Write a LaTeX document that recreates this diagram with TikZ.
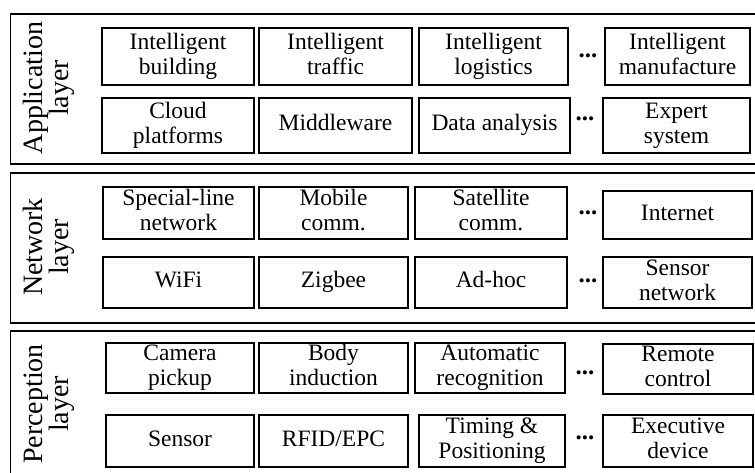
\documentclass[tikz,border=0pt]{standalone}
\usepackage{fontspec}
\setmainfont{Liberation Serif}
\newcommand\lnA[1]{\strut#1}
\begin{document}
\begin{tikzpicture}[x=1pt,y=-1pt,
  layerbox/.style={draw, line width=1.5pt, anchor=north west, minimum width=751, minimum height=150, inner sep=0pt},
  layerlabel/.style={rotate=90, align=center, inner sep=0pt, font=\fontsize{28}{26}\selectfont},
  cell/.style={draw, line width=1.2pt, align=center, inner sep=0pt, font=\fontsize{23.5}{25}\selectfont},
  dots/.style={anchor=base, inner sep=0pt, font=\fontsize{25}{25}\selectfont\bfseries}]
\useasboundingbox (0,0) rectangle (755,472);
\clip (0,0) rectangle (755,472);
% layers
\node[layerbox] (app) at (9.5,13) {};
\node[layerbox] (net) at (9.5,172) {};
\node[layerbox] (per) at (9.5,330) {};
\node[layerlabel] (appl) at (49,88) {Application\\layer};
\node[layerlabel] (netl) at (49,247) {Network\\layer};
\node[layerlabel] (perl) at (49,404) {Perception\\layer};
% application layer
\node[cell, minimum width=152, minimum height=57] (a11) at (178,56.5) {\lnA{Intelligent}\\\lnA{building}};
\node[cell, minimum width=153, minimum height=57] (a12) at (335.5,56.5) {\lnA{Intelligent}\\\lnA{traffic}};
\node[cell, minimum width=149, minimum height=57] (a13) at (493.5,56.5) {\lnA{Intelligent}\\\lnA{logistics}};
\node[cell, minimum width=145, minimum height=57] (a14) at (677.5,56.5) {\lnA{Intelligent}\\\lnA{manufacture}};
\node[cell, minimum width=152, minimum height=55] (a21) at (178,125.5) {\lnA{Cloud}\\\lnA{platforms}};
\node[cell, minimum width=153, minimum height=55] (a22) at (335.5,125.5) {\lnA{Middleware}};
\node[cell, minimum width=151, minimum height=55] (a23) at (494.5,125.5) {\lnA{Data analysis}};
\node[cell, minimum width=147, minimum height=55] (a24) at (676.5,125.5) {\lnA{Expert}\\\lnA{system}};
\node[dots] (ad1) at (588,57) {...};
\node[dots] (ad2) at (585,120) {...};
% network layer
\node[cell, minimum width=151, minimum height=52] (n11) at (178.5,213) {\lnA{Special-line}\\\lnA{network}};
\node[cell, minimum width=149, minimum height=52] (n12) at (333.5,213) {\lnA{Mobile}\\\lnA{comm.}};
\node[cell, minimum width=152, minimum height=52] (n13) at (491,213) {\lnA{Satellite}\\\lnA{comm.}};
\node[cell, minimum width=149, minimum height=48] (n14) at (677.5,215) {\lnA{Internet}};
\node[cell, minimum width=151, minimum height=51] (n21) at (178.5,282.5) {\lnA{WiFi}};
\node[cell, minimum width=149, minimum height=51] (n22) at (333.5,282.5) {\lnA{Zigbee}};
\node[cell, minimum width=152, minimum height=51] (n23) at (491,282.5) {\lnA{Ad-hoc}};
\node[cell, minimum width=149, minimum height=51] (n24) at (677.5,282.5) {\lnA{Sensor}\\\lnA{network}};
\node[dots] (nd1) at (588,214) {...};
\node[dots] (nd2) at (588,282) {...};
% perception layer
\node[cell, minimum width=148, minimum height=50] (p11) at (180,368) {\lnA{Camera}\\\lnA{pickup}};
\node[cell, minimum width=149, minimum height=50] (p12) at (333.5,368) {\lnA{Body}\\\lnA{induction}};
\node[cell, minimum width=150, minimum height=50] (p13) at (490,368) {\lnA{Automatic}\\\lnA{recognition}};
\node[cell, minimum width=150, minimum height=50] (p14) at (678,369) {\lnA{Remote}\\\lnA{control}};
\node[cell, minimum width=148, minimum height=52] (p21) at (180,441) {\lnA{Sensor}};
\node[cell, minimum width=149, minimum height=52] (p22) at (333.5,441) {\lnA{RFID/EPC}};
\node[cell, minimum width=146, minimum height=52] (p23) at (492,441) {\lnA{Timing \&}\\\lnA{Positioning}};
\node[cell, minimum width=150, minimum height=52] (p24) at (678,441) {\lnA{Executive}\\\lnA{device}};
\node[dots] (pd1) at (585,374) {...};
\node[dots] (pd2) at (585,439) {...};
\end{tikzpicture}
\end{document}
